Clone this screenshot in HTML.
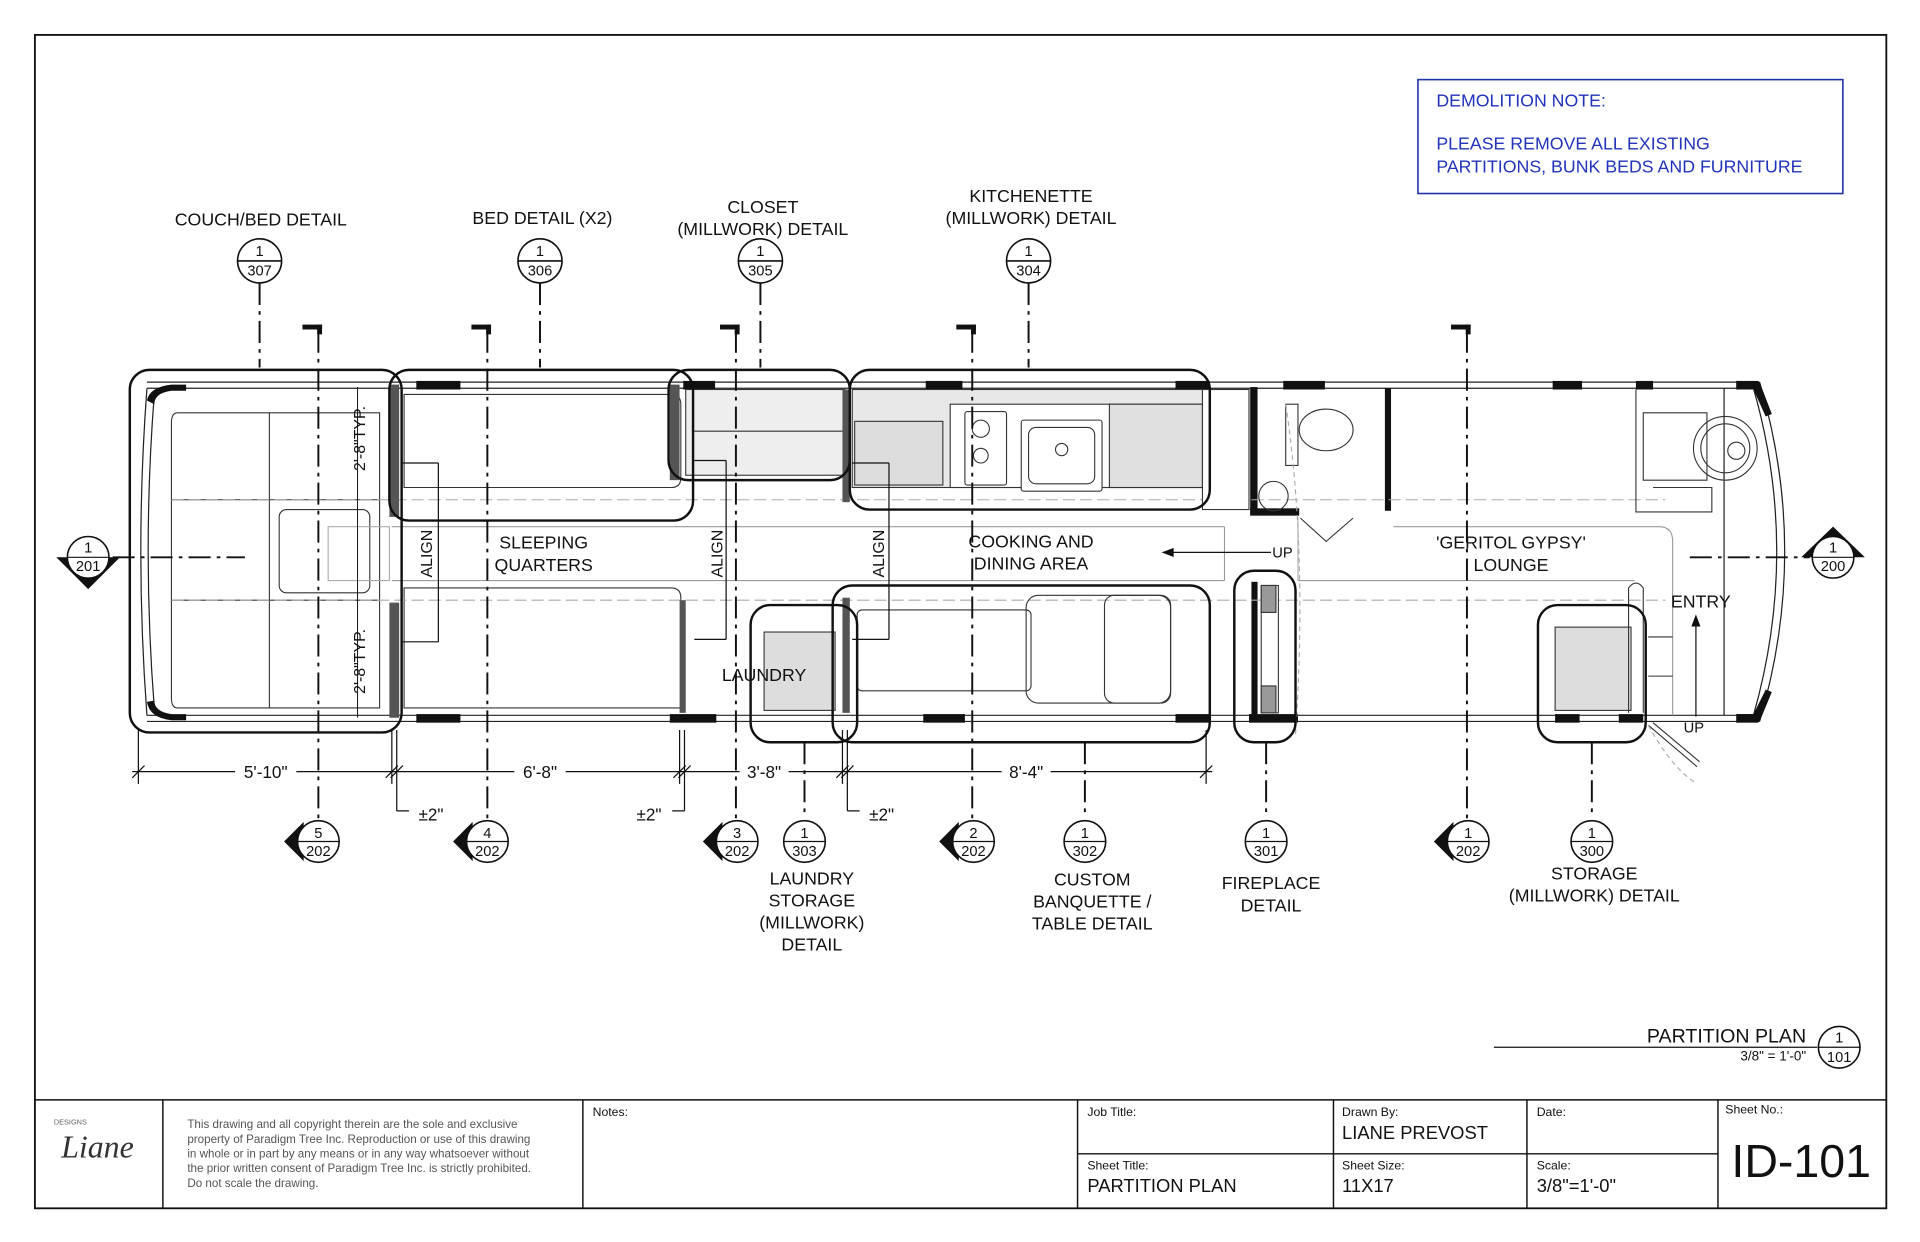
<!DOCTYPE html>
<html><head><meta charset="utf-8"><style>
html,body{margin:0;padding:0;background:#fff;}
svg{display:block;}
text{font-family:"Liberation Sans",Arial,sans-serif;fill:#111;}
</style></head><body>
<svg width="1920" height="1242" viewBox="0 0 1568 1014" preserveAspectRatio="none" xmlns="http://www.w3.org/2000/svg">
<rect x="0" y="0" width="1568" height="1014" fill="#fff"/>
<rect x="28.5" y="28.5" width="1512" height="958" fill="none" stroke="#111" stroke-width="1.5"/>

<!-- demolition note -->
<rect x="1158" y="65" width="347" height="93" fill="none" stroke="#2233aa" stroke-width="1.3"/>
<text x="1173" y="87" font-size="14.5" style="fill:#2233bb">DEMOLITION NOTE:</text>
<text x="1173" y="122" font-size="14.5" style="fill:#2233bb">PLEASE REMOVE ALL EXISTING</text>
<text x="1173" y="141" font-size="14.5" style="fill:#2233bb">PARTITIONS, BUNK BEDS AND FURNITURE</text>

<!-- bus walls -->
<g fill="none" stroke="#222" stroke-width="1">
<line x1="120" y1="312" x2="1437" y2="312"/>
<line x1="120" y1="317" x2="1432" y2="317"/>
<line x1="120" y1="584" x2="1432" y2="584"/>
<line x1="120" y1="589" x2="1437" y2="589"/>
<path d="M120 317 Q110 450 120 584"/>
<path d="M126 322 Q116 450 126 578"/>
<path d="M1437 312 Q1478 450 1437 589"/>
<path d="M1432 317 Q1470 450 1432 584"/>
<line x1="1408" y1="317" x2="1408" y2="584"/>
</g>
<g fill="#111">
<path d="M120 327 Q122 316 140 314 L152 314 L152 319 L140 319 Q126 321 126 330 Z"/>
<path d="M120 573 Q122 586 140 588 L152 588 L152 583 L140 583 Q126 581 126 572 Z"/>
<rect x="340" y="311" width="36" height="7"/><rect x="558" y="311" width="26" height="7"/>
<rect x="756" y="311" width="30" height="7"/><rect x="960" y="311" width="28" height="7"/>
<rect x="1048" y="311" width="34" height="7"/><rect x="1268" y="311" width="24" height="7"/>
<rect x="1336" y="311" width="14" height="7"/><rect x="1418" y="311" width="18" height="7"/>
<rect x="340" y="583" width="36" height="7"/><rect x="547" y="583" width="38" height="7"/>
<rect x="754" y="583" width="34" height="7"/><rect x="960" y="583" width="28" height="7"/>
<rect x="1020" y="583" width="40" height="7"/><rect x="1270" y="583" width="20" height="7"/>
<rect x="1322" y="583" width="20" height="7"/><rect x="1418" y="583" width="18" height="7"/>
<path d="M1418 311 L1437 312 L1447 338 L1442 340 L1432 318 L1418 318Z"/>
<path d="M1418 590 L1437 589 L1447 565 L1442 563 L1432 583 L1418 583Z"/>
<!-- bathroom walls -->
<rect x="1021" y="316" width="6" height="104"/><rect x="1021" y="415" width="40" height="6"/>
<rect x="1131" y="317" width="5" height="100"/>
<rect x="1022" y="475" width="5" height="112"/>
</g>

<!-- couch area -->
<g fill="none" stroke="#333" stroke-width="0.9">
<path d="M145 337 H310 V578 H145 Q140 578 140 570 V345 Q140 337 145 337Z"/>
<line x1="140" y1="408" x2="310" y2="408"/><line x1="140" y1="490" x2="310" y2="490"/>
<line x1="220" y1="337" x2="220" y2="578"/>
<rect x="228" y="416" width="74" height="68" rx="6" fill="#fff"/>
<!-- beds -->
<path d="M330 322 H548 Q556 322 556 330 V390 Q556 398 548 398 H330Z"/>
<path d="M330 480 H548 Q556 480 556 488 V578 H330Z"/>
<!-- center aisle lines -->
<line x1="320" y1="430" x2="1000" y2="430" stroke="#999"/>
<line x1="320" y1="474" x2="1000" y2="474" stroke="#999"/>
<rect x="268" y="430" width="50" height="44" stroke="#aaa"/>
<path d="M1138 430 H1355 Q1366 430 1366 442 V584" stroke="#999"/>
<path d="M1060 474 H1335" stroke="#999"/>
<line x1="1000" y1="430" x2="1000" y2="474" stroke="#999"/>
<line x1="1060" y1="422" x2="1060" y2="474" stroke="#aaa"/>
<!-- dashed centerline -->
<line x1="140" y1="408" x2="1360" y2="408" stroke="#aaa" stroke-dasharray="10 4"/>
<line x1="140" y1="490" x2="1360" y2="490" stroke="#aaa" stroke-dasharray="10 4"/>
<!-- closet -->
<rect x="560" y="318" width="130" height="70" fill="#eee"/>
<line x1="565" y1="352" x2="688" y2="352"/>
<!-- kitchen -->
<rect x="696" y="318" width="288" height="80" fill="#e8e8e8"/>
<rect x="776" y="330" width="210" height="68" fill="#fff"/>
<rect x="698" y="344" width="72" height="52" fill="#ddd"/>
<rect x="906" y="330" width="76" height="68" fill="#e0e0e0"/>
<rect x="788" y="336" width="34" height="60" rx="2" fill="#fff"/>
<circle cx="801" cy="350" r="7"/><circle cx="801" cy="372" r="6"/>
<rect x="834" y="343" width="66" height="58" rx="2" fill="#fff"/>
<rect x="840" y="349" width="54" height="46" rx="6"/>
<circle cx="867" cy="367" r="5"/>
<rect x="982" y="318" width="38" height="98" fill="#fff"/>
<!-- banquette -->
<rect x="700" y="498" width="142" height="66" rx="4"/>
<rect x="838" y="486" width="118" height="88" rx="10"/>
<rect x="902" y="486" width="54" height="88" rx="8"/>
<!-- laundry -->
<rect x="624" y="516" width="58" height="64" fill="#ddd"/>
<!-- fireplace -->
<rect x="1030" y="478" width="14" height="104" fill="#fff"/>
<rect x="1030" y="478" width="12" height="22" fill="#999"/>
<rect x="1030" y="560" width="12" height="22" fill="#999"/>
<!-- bathroom fixtures -->
<ellipse cx="1083" cy="351" rx="22" ry="17"/>
<rect x="1050" y="330" width="10" height="50"/>
<circle cx="1040" cy="405" r="12"/>
<path d="M1062 423 L1083 442 L1105 423"/>
<path d="M1050 330 Q1068 450 1058 600" stroke="#aaa" stroke-dasharray="4 3"/>
<!-- driver -->
<path d="M1342 337 H1394 V392 H1342 Z"/>
<path d="M1336 318 V418 H1398 V398 H1350"/>
<circle cx="1409" cy="366" r="26"/><circle cx="1409" cy="366" r="20"/><circle cx="1418" cy="368" r="7"/>
<!-- storage front -->
<rect x="1270" y="512" width="62" height="68" fill="#ddd"/>
<path d="M1330 582 V480 Q1336 472 1342 480 V582"/>
<path d="M1346 520 H1366 M1346 552 H1366"/>
<path d="M1346 592 L1386 626 M1350 590 L1388 622"/>
<path d="M1346 592 Q1366 628 1386 640" stroke="#aaa" stroke-dasharray="4 3"/>
</g>
<!-- partition walls at align -->
<g fill="#555">
<rect x="318" y="314" width="8" height="108"/><rect x="318" y="492" width="8" height="94"/>
<rect x="547" y="314" width="8" height="78"/><rect x="555" y="490" width="5" height="92"/>
<rect x="688" y="318" width="6" height="92"/><rect x="688" y="488" width="6" height="94"/>
</g>

<!-- rounded detail boxes -->
<g fill="none" stroke="#111" stroke-width="2">
<rect x="106" y="302" width="222" height="296" rx="16"/>
<rect x="318" y="302" width="248" height="123" rx="16"/>
<rect x="546" y="302" width="148" height="90" rx="16"/>
<rect x="694" y="302" width="294" height="114" rx="16"/>
<rect x="613" y="494" width="87" height="112" rx="16"/>
<rect x="680" y="478" width="308" height="128" rx="16"/>
<rect x="1008" y="466" width="50" height="140" rx="16"/>
<rect x="1256" y="494" width="88" height="112" rx="16"/>
</g>

<!-- dash-dot section lines -->
<g stroke="#111" stroke-width="1.6" stroke-dasharray="18 5 3 5" fill="none">
<line x1="212" y1="231" x2="212" y2="300"/><line x1="441" y1="231" x2="441" y2="300"/>
<line x1="621" y1="231" x2="621" y2="300"/><line x1="840" y1="231" x2="840" y2="300"/>
<line x1="260" y1="270" x2="260" y2="668"/><line x1="398" y1="270" x2="398" y2="668"/>
<line x1="601" y1="270" x2="601" y2="668"/><line x1="794" y1="270" x2="794" y2="668"/>
<line x1="1198" y1="270" x2="1198" y2="668"/>
<line x1="92" y1="455" x2="200" y2="455"/><line x1="1380" y1="455" x2="1478" y2="455"/>
<line x1="657" y1="606" x2="657" y2="668"/><line x1="886" y1="606" x2="886" y2="668"/>
<line x1="1034" y1="606" x2="1034" y2="668"/><line x1="1300" y1="606" x2="1300" y2="668"/>
</g>
<g fill="#111">
<rect x="247" y="265" width="16" height="4"/><rect x="259" y="265" width="4" height="8"/>
<rect x="385" y="265" width="16" height="4"/><rect x="397" y="265" width="4" height="8"/>
<rect x="588" y="265" width="16" height="4"/><rect x="600" y="265" width="4" height="8"/>
<rect x="781" y="265" width="16" height="4"/><rect x="793" y="265" width="4" height="8"/>
<rect x="1185" y="265" width="16" height="4"/><rect x="1197" y="265" width="4" height="8"/>
</g>

<!-- top callouts -->
<g font-size="12" text-anchor="middle">
<g fill="none" stroke="#111" stroke-width="1.3">
<circle cx="212" cy="213" r="18"/><line x1="194" y1="213" x2="230" y2="213"/>
<circle cx="441" cy="213" r="18"/><line x1="423" y1="213" x2="459" y2="213"/>
<circle cx="621" cy="213" r="18"/><line x1="603" y1="213" x2="639" y2="213"/>
<circle cx="840" cy="213" r="18"/><line x1="822" y1="213" x2="858" y2="213"/>
</g>
<text x="212" y="209">1</text><text x="212" y="225">307</text>
<text x="441" y="209">1</text><text x="441" y="225">306</text>
<text x="621" y="209">1</text><text x="621" y="225">305</text>
<text x="840" y="209">1</text><text x="840" y="225">304</text>
</g>
<g font-size="14.5" text-anchor="middle">
<text x="213" y="184">COUCH/BED DETAIL</text>
<text x="443" y="183">BED DETAIL (X2)</text>
<text x="623" y="174">CLOSET</text><text x="623" y="192">(MILLWORK) DETAIL</text>
<text x="842" y="165">KITCHENETTE</text><text x="842" y="183">(MILLWORK) DETAIL</text>
<text x="444" y="448">SLEEPING</text><text x="444" y="466">QUARTERS</text>
<text x="842" y="447">COOKING AND</text><text x="842" y="465">DINING AREA</text>
<text x="1234" y="448">'GERITOL GYPSY'</text><text x="1234" y="466">LOUNGE</text>
<text x="1389" y="496">ENTRY</text>
<text x="624" y="556">LAUNDRY</text>
<text x="663" y="722">LAUNDRY</text><text x="663" y="740">STORAGE</text><text x="663" y="758">(MILLWORK)</text><text x="663" y="776">DETAIL</text>
<text x="892" y="723">CUSTOM</text><text x="892" y="741">BANQUETTE /</text><text x="892" y="759">TABLE DETAIL</text>
<text x="1038" y="726">FIREPLACE</text><text x="1038" y="744">DETAIL</text>
<text x="1302" y="718">STORAGE</text><text x="1302" y="736">(MILLWORK) DETAIL</text>
</g>
<g font-size="13" text-anchor="middle">
<text transform="translate(353 452) rotate(-90)">ALIGN</text>
<text transform="translate(590 452) rotate(-90)">ALIGN</text>
<text transform="translate(722 452) rotate(-90)">ALIGN</text>
<text transform="translate(298 358) rotate(-90)">2'-8"TYP.</text>
<text transform="translate(298 540) rotate(-90)">2'-8"TYP.</text>
</g>
<g font-size="12"><text x="1039" y="455">UP</text><text x="1375" y="598">UP</text></g>
<g stroke="#111" fill="none" stroke-width="1">
<line x1="950" y1="451" x2="1038" y2="451"/><path d="M950 451 l8 -3 v6z" fill="#111"/>
<line x1="1385" y1="585" x2="1385" y2="506"/><path d="M1385 503 l-3 8 h6z" fill="#111"/>
<line x1="292" y1="316" x2="292" y2="586" stroke-width="0.8"/>
<line x1="328" y1="378" x2="358" y2="378"/><line x1="358" y1="378" x2="358" y2="524"/><line x1="328" y1="524" x2="358" y2="524"/>
<line x1="567" y1="376" x2="593" y2="376"/><line x1="593" y1="376" x2="593" y2="522"/><line x1="567" y1="522" x2="593" y2="522"/>
<line x1="696" y1="378" x2="726" y2="378"/><line x1="726" y1="378" x2="726" y2="522"/><line x1="696" y1="522" x2="726" y2="522"/>
</g>

<!-- dimensions -->
<g stroke="#111" stroke-width="1" fill="none">
<line x1="108" y1="630" x2="990" y2="630"/>
<line x1="113" y1="596" x2="113" y2="640"/><line x1="320" y1="596" x2="320" y2="640"/><line x1="324" y1="596" x2="324" y2="662"/>
<line x1="555" y1="596" x2="555" y2="640"/><line x1="559" y1="596" x2="559" y2="662"/>
<line x1="688" y1="596" x2="688" y2="640"/><line x1="692" y1="596" x2="692" y2="662"/>
<line x1="985" y1="596" x2="985" y2="640"/>
<path d="M108 635 l10 -10 M315 635 l10 -10 M319 635 l10 -10 M550 635 l10 -10 M554 635 l10 -10 M683 635 l10 -10 M687 635 l10 -10 M980 635 l10 -10"/>
<path d="M324 662 h10 M559 662 h-10 M692 662 h10"/>
</g>
<g font-size="14" text-anchor="middle">
<rect x="192" y="622" width="50" height="14" fill="#fff"/><text x="217" y="635">5'-10"</text>
<rect x="420" y="622" width="42" height="14" fill="#fff"/><text x="441" y="635">6'-8"</text>
<rect x="604" y="622" width="40" height="14" fill="#fff"/><text x="624" y="635">3'-8"</text>
<rect x="818" y="622" width="40" height="14" fill="#fff"/><text x="838" y="635">8'-4"</text>
<text x="352" y="670">±2"</text><text x="530" y="670">±2"</text><text x="720" y="670">±2"</text>
</g>

<!-- bottom section markers -->
<g font-size="12" text-anchor="middle">
<g fill="#111">
<path d="M232 687 L248 671 L248 703 Z"/><path d="M370 687 L386 671 L386 703 Z"/>
<path d="M574 687 L590 671 L590 703 Z"/><path d="M767 687 L783 671 L783 703 Z"/>
<path d="M1171 687 L1187 671 L1187 703 Z"/>
<path d="M46 455 L98 455 L72 481 Z"/><path d="M1497 430 L1523 455 L1471 455 Z"/>
</g>
<g fill="#fff" stroke="#111" stroke-width="1.3">
<circle cx="260" cy="687" r="17"/><circle cx="398" cy="687" r="17"/><circle cx="602" cy="687" r="17"/>
<circle cx="795" cy="687" r="17"/><circle cx="1199" cy="687" r="17"/>
<circle cx="657" cy="687" r="17"/><circle cx="886" cy="687" r="17"/><circle cx="1034" cy="687" r="17"/><circle cx="1300" cy="687" r="17"/>
<circle cx="72" cy="455" r="17"/><circle cx="1497" cy="455" r="17"/>
</g>
<g stroke="#111" stroke-width="1">
<path d="M243 687 h34 M381 687 h34 M585 687 h34 M778 687 h34 M1182 687 h34 M640 687 h34 M869 687 h34 M1017 687 h34 M1283 687 h34 M55 455 h34 M1480 455 h34"/>
</g>
<text x="260" y="684">5</text><text x="260" y="699">202</text>
<text x="398" y="684">4</text><text x="398" y="699">202</text>
<text x="602" y="684">3</text><text x="602" y="699">202</text>
<text x="795" y="684">2</text><text x="795" y="699">202</text>
<text x="1199" y="684">1</text><text x="1199" y="699">202</text>
<text x="657" y="684">1</text><text x="657" y="699">303</text>
<text x="886" y="684">1</text><text x="886" y="699">302</text>
<text x="1034" y="684">1</text><text x="1034" y="699">301</text>
<text x="1300" y="684">1</text><text x="1300" y="699">300</text>
<text x="72" y="451">1</text><text x="72" y="466">201</text>
<text x="1497" y="451">1</text><text x="1497" y="466">200</text>
</g>

<!-- plan title -->
<text x="1475" y="851" font-size="16" text-anchor="end">PARTITION PLAN</text>
<line x1="1220" y1="855" x2="1484" y2="855" stroke="#111" stroke-width="1"/>
<text x="1475" y="866" font-size="11" text-anchor="end">3/8" = 1'-0"</text>
<circle cx="1502" cy="855" r="17" fill="none" stroke="#111" stroke-width="1.3"/>
<line x1="1485" y1="855" x2="1519" y2="855" stroke="#111"/>
<text x="1502" y="851" font-size="12" text-anchor="middle">1</text>
<text x="1502" y="867" font-size="12" text-anchor="middle">101</text>

<!-- title block -->
<g stroke="#111" stroke-width="1.2" fill="none">
<line x1="28" y1="898" x2="1540" y2="898"/>
<line x1="133" y1="898" x2="133" y2="986"/><line x1="476" y1="898" x2="476" y2="986"/>
<line x1="880" y1="898" x2="880" y2="986"/><line x1="1089" y1="898" x2="1089" y2="986"/>
<line x1="1247" y1="898" x2="1247" y2="986"/><line x1="1403" y1="898" x2="1403" y2="986"/>
<line x1="880" y1="942" x2="1403" y2="942"/>
</g>
<text x="44" y="918" font-size="6" style="fill:#666">DESIGNS</text>
<text x="50" y="945" font-size="26" font-style="italic" style="font-family:'Liberation Serif',serif;fill:#333">Liane</text>
<g font-size="9.5" style="fill:#555">
<text x="153" y="921" style="fill:#555">This drawing and all copyright therein are the sole and exclusive</text>
<text x="153" y="933" style="fill:#555">property of Paradigm Tree Inc. Reproduction or use of this drawing</text>
<text x="153" y="945" style="fill:#555">in whole or in part by any means or in any way whatsoever without</text>
<text x="153" y="957" style="fill:#555">the prior written consent of Paradigm Tree Inc. is strictly prohibited.</text>
<text x="153" y="969" style="fill:#555">Do not scale the drawing.</text>
</g>
<g font-size="10">
<text x="484" y="911">Notes:</text>
<text x="888" y="911">Job Title:</text><text x="1096" y="911">Drawn By:</text><text x="1255" y="911">Date:</text><text x="1409" y="909">Sheet No.:</text>
<text x="888" y="955">Sheet Title:</text><text x="1096" y="955">Sheet Size:</text><text x="1255" y="955">Scale:</text>
</g>
<g font-size="15">
<text x="1096" y="930">LIANE PREVOST</text>
<text x="888" y="973">PARTITION PLAN</text><text x="1096" y="973">11X17</text><text x="1255" y="973">3/8"=1'-0"</text>
</g>
<text x="1471" y="961" font-size="38" text-anchor="middle">ID-101</text>
</svg>
</body></html>
